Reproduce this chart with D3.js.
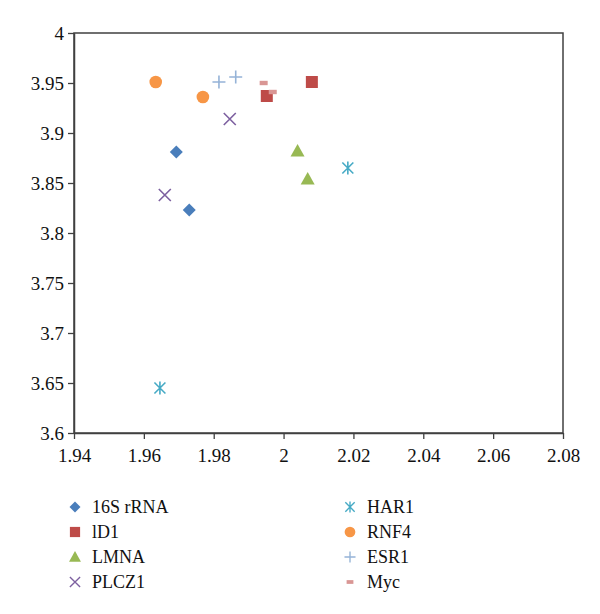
<!DOCTYPE html>
<html>
<head>
<meta charset="utf-8">
<script src="https://cdn.jsdelivr.net/npm/d3@7"></script>
<style>
  body { margin: 0; background: #fff; }
</style>
</head>
<body>
<div id="chart"></div>
<script>
// series names, in legend order
const seriesNames = ['16S rRNA', 'lD1', 'LMNA', 'PLCZ1', 'HAR1', 'RNF4', 'ESR1', 'Myc'];

// points per series, [x, y]
const s16S = [[1.9693, 3.881], [1.9730, 3.823]];
const sID1 = [[1.9952, 3.937], [2.0081, 3.951]];
const sLMNA = [[2.0040, 3.882], [2.0069, 3.854]];
const sPLCZ1 = [[1.9846, 3.914], [1.9660, 3.838]];
const sHAR1 = [[2.0184, 3.865], [1.9646, 3.645]];
const sRNF4 = [[1.9634, 3.951], [1.9769, 3.936]];
const sESR1 = [[1.9815, 3.951], [1.9863, 3.956]];
const sMyc = [[1.9943, 3.950], [1.9969, 3.941]];

const xTicks = [1.94, 1.96, 1.98, 2, 2.02, 2.04, 2.06, 2.08];
const yTicks = [3.6, 3.65, 3.7, 3.75, 3.8, 3.85, 3.9, 3.95, 4];

const colors = ['#4a7ebb', '#be4b48', '#98b954', '#7d60a0', '#46aac5', '#f79646', '#95b3d7', '#d99694'];
const shapes = ['diamond', 'square', 'triangle', 'x', 'star', 'circle', 'plus', 'dash'];
const allSeries = [s16S, sID1, sLMNA, sPLCZ1, sHAR1, sRNF4, sESR1, sMyc];

const FONT = "'Liberation Serif', 'Times New Roman', serif";

const W = 600;
const H = 614;
const margin = { top: 33, right: 37, bottom: 181, left: 74 };
const width = W - margin.left - margin.right;
const height = H - margin.top - margin.bottom;

const svg = d3.select('#chart').append('svg')
  .attr('width', W)
  .attr('height', H);

const g = svg.append('g')
  .attr('transform', `translate(${margin.left},${margin.top})`);

const x = d3.scaleLinear().domain([1.94, 2.08]).range([0, width]);
const y = d3.scaleLinear().domain([3.6, 4]).range([height, 0]);

// frame (top + right)
g.append('rect')
  .attr('x', 0).attr('y', 0)
  .attr('width', width).attr('height', height)
  .attr('fill', 'none')
  .attr('stroke', '#404040')
  .attr('stroke-width', 1.5);

const xAxis = g.append('g')
  .attr('transform', `translate(0,${height})`)
  .call(d3.axisBottom(x).tickValues(xTicks).tickFormat(d3.format('')).tickSize(6).tickSizeOuter(0));

const yAxis = g.append('g')
  .call(d3.axisLeft(y).tickValues(yTicks).tickFormat(d3.format('')).tickSize(6).tickSizeOuter(0));

[xAxis, yAxis].forEach((ax) => {
  ax.attr('font-family', FONT).attr('font-size', 19);
  ax.select('.domain').attr('stroke', '#404040').attr('stroke-width', 1.5);
  ax.selectAll('.tick line').attr('stroke', '#404040').attr('stroke-width', 1.3);
  ax.selectAll('.tick text').attr('fill', '#111');
});
xAxis.selectAll('.tick text').attr('y', 22).attr('dy', '0.35em');
yAxis.selectAll('.tick text').attr('x', -10).attr('dy', '0.35em');

// marker drawing
function drawMarker(sel, shape, color) {
  switch (shape) {
    case 'diamond':
      sel.append('path').attr('d', 'M0,-6.5L6.5,0L0,6.5L-6.5,0Z').attr('fill', color);
      break;
    case 'square':
      sel.append('rect').attr('x', -6).attr('y', -6).attr('width', 12).attr('height', 12).attr('fill', color);
      break;
    case 'triangle':
      sel.append('path').attr('d', 'M0,-7L7,5.5L-7,5.5Z').attr('fill', color);
      break;
    case 'x':
      sel.append('path').attr('d', 'M-6,-6L6,6M-6,6L6,-6').attr('stroke', color).attr('stroke-width', 1.6).attr('fill', 'none');
      break;
    case 'star':
      sel.append('path').attr('d', 'M-5.5,-5.5L5.5,5.5M-5.5,5.5L5.5,-5.5M0,-6.5L0,6.5').attr('stroke', color).attr('stroke-width', 1.6).attr('fill', 'none');
      break;
    case 'circle':
      sel.append('circle').attr('r', 6.3).attr('fill', color);
      break;
    case 'plus':
      sel.append('path').attr('d', 'M-6.5,0L6.5,0M0,-6.5L0,6.5').attr('stroke', color).attr('stroke-width', 1.6).attr('fill', 'none');
      break;
    case 'dash':
      sel.append('rect').attr('x', -4).attr('y', -2.2).attr('width', 8).attr('height', 4.4).attr('fill', color);
      break;
    default:
      break;
  }
}

const plot = g.append('g');
allSeries.forEach((pts, i) => {
  pts.forEach((p) => {
    const m = plot.append('g').attr('transform', `translate(${x(p[0])},${y(p[1])})`);
    drawMarker(m, shapes[i], colors[i]);
  });
});

// legend: two columns of four
const legend = svg.append('g')
  .attr('font-family', FONT)
  .attr('font-size', 18);
seriesNames.forEach((name, i) => {
  const col = Math.floor(i / 4);
  const row = i % 4;
  const lx = col === 0 ? 75 : 350;
  const ly = 507 + row * 25;
  const item = legend.append('g').attr('transform', `translate(${lx},${ly})`);
  const m = item.append('g').attr('transform', 'scale(0.85)');
  drawMarker(m, shapes[i], colors[i]);
  item.append('text')
    .attr('x', 17)
    .attr('dy', '0.35em')
    .attr('fill', '#111')
    .text(name);
});
</script>
</body>
</html>
